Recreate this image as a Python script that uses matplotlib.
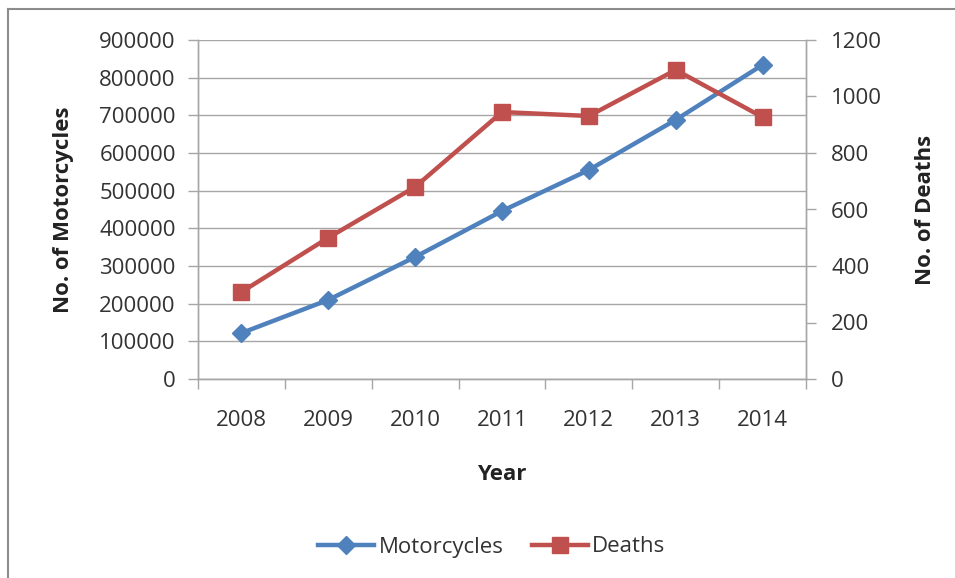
import matplotlib
matplotlib.use("Agg")
import matplotlib.pyplot as plt
from matplotlib.lines import Line2D
import numpy as np

years = ["2008", "2009", "2010", "2011", "2012", "2013", "2014"]
motorcycles = [122000, 210000, 324000, 446000, 555000, 688000, 834000]
deaths = [308, 500, 680, 945, 931, 1094, 927]

plt.rcParams['font.family'] = ['Open Sans', 'DejaVu Sans']
BLUE = '#4F81BD'
RED = '#C0504D'
GRID = '#A6A6A6'
TXT = '#333333'
FS = 16

fig = plt.figure(figsize=(9.55, 5.78), dpi=100)
ax = fig.add_axes([198/955, 1-379/578, (806-198)/955, (379-40)/578])
ax2 = ax.twinx()

x = np.arange(len(years))
ax.plot(x, motorcycles, color=BLUE, lw=3.2, marker='D', markersize=9, zorder=3,
        solid_joinstyle='round', solid_capstyle='round')
ax2.plot(x, deaths, color=RED, lw=3.2, marker='s', markersize=12, zorder=3)

ax.set_xlim(-0.5, len(years)-0.5)
ax.set_ylim(0, 900000)
ax2.set_ylim(0, 1200)
ax.set_yticks(np.arange(0, 900001, 100000))
ax2.set_yticks(np.arange(0, 1201, 200))
ax.set_xticks(np.arange(-0.5, len(years), 1.0))
ax.set_xticklabels([])
ax.set_xticks(x, minor=True)
ax.set_xticklabels(years, minor=True)
ax.tick_params(axis='x', which='major', length=7, color=GRID, width=1, direction='out')
ax.tick_params(axis='x', which='minor', length=0, pad=22, labelsize=FS, labelcolor=TXT)
ax.tick_params(axis='y', length=7, color=GRID, width=1, labelsize=FS, labelcolor=TXT, pad=9)
ax2.tick_params(axis='y', length=7, color=GRID, width=1, labelsize=FS, labelcolor=TXT, pad=11)

ax.grid(axis='y', color=GRID, lw=1)
ax.set_axisbelow(True)
for a in (ax, ax2):
    for s in a.spines.values():
        s.set_color(GRID)
        s.set_linewidth(1)
    a.spines['top'].set_visible(False)

ax.set_xlabel('Year', fontsize=FS, fontweight='bold', color='#222222', labelpad=24)
ax.set_ylabel('No. of Motorcycles', fontsize=FS, fontweight='bold', color='#222222', labelpad=18)
ax2.set_ylabel('No. of Deaths', fontsize=FS, fontweight='bold', color='#222222', labelpad=24)

handles = [Line2D([], [], color=BLUE, lw=3.2, marker='D', markersize=9),
           Line2D([], [], color=RED, lw=3.2, marker='s', markersize=12)]
fig.legend(handles, ['Motorcycles', 'Deaths'], loc='center', bbox_to_anchor=(492/955, 1-547/578),
           ncol=2, frameon=False, fontsize=FS, handlelength=2.5, handletextpad=0.2,
           columnspacing=1.3, labelcolor=TXT)

# partial outer border (left and top)
fig.add_artist(Line2D([8/955, 8/955], [0, 1-9/578], color='#8C8C8C', lw=1.5, transform=fig.transFigure))
fig.add_artist(Line2D([8/955, 1], [1-9/578, 1-9/578], color='#8C8C8C', lw=1.5, transform=fig.transFigure))

fig.savefig('out.png', dpi=100)
